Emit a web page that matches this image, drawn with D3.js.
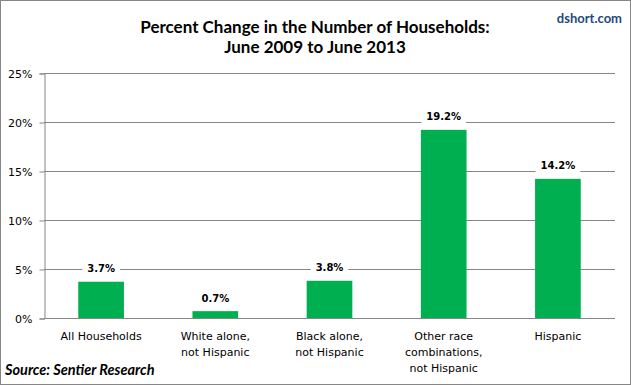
<!DOCTYPE html>
<html>
<head>
<meta charset="utf-8">
<script src="https://cdn.jsdelivr.net/npm/d3@7"></script>
<style>
  html, body { margin: 0; padding: 0; background: #fff; }
  svg { display: block; }
</style>
</head>
<body>
<div id="chart"></div>
<script>
// Percent change in households by group, June 2009 to June 2013
var categories = [
  ['All Households'],
  ['White alone,', 'not Hispanic'],
  ['Black alone,', 'not Hispanic'],
  ['Other race', 'combinations,', 'not Hispanic'],
  ['Hispanic']
];
var values = [3.7, 0.7, 3.8, 19.2, 14.2];
var yTicks = [0, 5, 10, 15, 20, 25];

var W = 631, H = 385;
var margin = { left: 44, right: 16, top: 73, bottom: 67 };

var svg = d3.select('#chart').append('svg')
  .attr('width', W).attr('height', H);

// chart frame
svg.append('rect')
  .attr('x', 0.5).attr('y', 0.5)
  .attr('width', W - 1).attr('height', H - 1)
  .attr('fill', '#fff').attr('stroke', '#868686');

var x = d3.scaleBand()
  .domain(d3.range(values.length))
  .range([margin.left, W - margin.right])
  .paddingInner(0.6).paddingOuter(0.3);

var y = d3.scaleLinear()
  .domain([0, 25])
  .range([H - margin.bottom, margin.top]);

// gridlines
svg.append('g').selectAll('line').data(yTicks).enter().append('line')
  .attr('x1', margin.left).attr('x2', W - margin.right)
  .attr('y1', function (d) { return Math.round(y(d)) + 0.5; })
  .attr('y2', function (d) { return Math.round(y(d)) + 0.5; })
  .attr('stroke', '#868686');

// y axis
var yAxis = svg.append('g')
  .attr('transform', 'translate(' + (margin.left + 0.5) + ',0.5)')
  .call(d3.axisLeft(y).tickValues(yTicks).tickSize(5).tickPadding(7)
    .tickFormat(function (d) { return d + '%'; }));
yAxis.select('.domain').attr('stroke', '#868686');
yAxis.selectAll('.tick line').attr('stroke', '#868686');
yAxis.selectAll('.tick text')
  .attr('fill', '#000')
  .style('font-family', 'DejaVu Sans, sans-serif')
  .style('font-size', '11px');

// bars
svg.append('g').selectAll('rect').data(values).enter().append('rect')
  .attr('x', function (d, i) { return x(i); })
  .attr('width', x.bandwidth())
  .attr('y', function (d) { return y(d); })
  .attr('height', function (d) { return y(0) - y(d); })
  .attr('fill', '#00b050');

// value labels with white boxes over gridlines
var lab = svg.append('g').selectAll('g').data(values).enter().append('g')
  .attr('transform', function (d, i) {
    return 'translate(' + (x(i) + x.bandwidth() / 2) + ',' + (y(d) - 13) + ')';
  });
lab.append('rect')
  .attr('x', -20).attr('y', -8).attr('width', 40).attr('height', 16)
  .attr('fill', '#fff');
lab.append('text')
  .attr('text-anchor', 'middle')
  .attr('dy', '0.36em')
  .style('font-family', 'DejaVu Sans, sans-serif')
  .style('font-weight', 'bold')
  .style('font-size', '10px')
  .text(function (d) { return d.toFixed(1) + '%'; })
  .each(function () {
    var bb = this.getBBox();
    d3.select(this.parentNode).select('rect')
      .attr('x', -bb.width / 2 - 5).attr('width', bb.width + 10);
  });

// x axis
svg.append('line')
  .attr('x1', margin.left).attr('x2', W - margin.right)
  .attr('y1', Math.round(y(0)) + 0.5).attr('y2', Math.round(y(0)) + 0.5)
  .attr('stroke', '#868686');

var cat = svg.append('g').selectAll('text').data(categories).enter().append('text')
  .attr('x', function (d, i) { return x(i) + x.bandwidth() / 2; })
  .attr('y', y(0) + 22)
  .attr('text-anchor', 'middle')
  .style('font-family', 'DejaVu Sans, sans-serif')
  .style('font-size', '11px');
cat.selectAll('tspan').data(function (d) { return d; }).enter().append('tspan')
  .attr('x', function () { return d3.select(this.parentNode).attr('x'); })
  .attr('dy', function (d, i) { return i === 0 ? 0 : 16; })
  .text(function (d) { return d; });

// title
var title = svg.append('text')
  .attr('x', 315).attr('text-anchor', 'middle')
  .style('font-family', 'Lato, sans-serif')
  .style('font-weight', 'bold')
  .style('font-size', '17px');
title.append('tspan').attr('x', 315).attr('y', 33).text('Percent Change in the Number of Households:');
title.append('tspan').attr('x', 315).attr('y', 53).text('June 2009 to June 2013');

svg.append('text')
  .attr('x', 622).attr('y', 23).attr('text-anchor', 'end')
  .attr('fill', '#1f497d')
  .style('font-family', 'Lato, sans-serif')
  .style('font-weight', 'bold')
  .style('font-size', '13px')
  .text('dshort.com');

svg.append('text')
  .attr('x', 5).attr('y', 375)
  .style('font-family', 'Lato, sans-serif')
  .style('font-weight', 'bold')
  .style('font-style', 'italic')
  .style('font-size', '14.5px')
  .text('Source: Sentier Research');
</script>
</body>
</html>
